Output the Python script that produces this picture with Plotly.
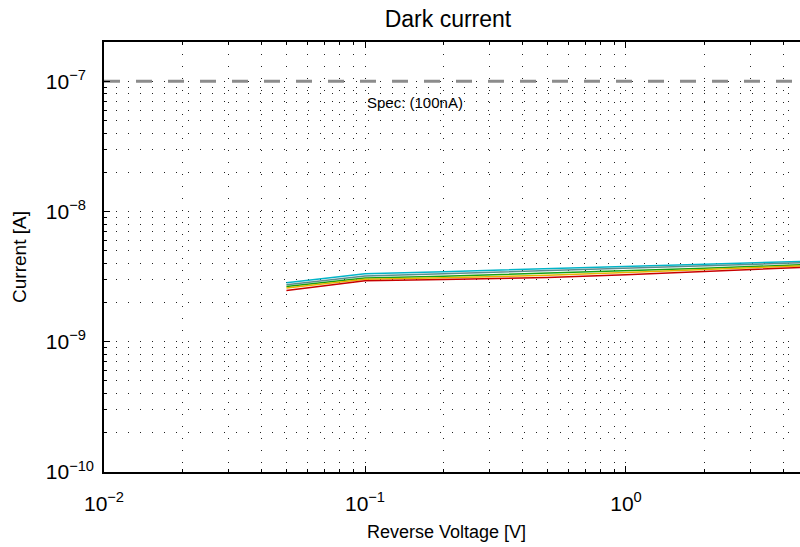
import plotly.graph_objects as go

# Data
voltage = [0.05, 0.1, 0.2, 0.5, 1, 2, 5]
series_names = ["Ch1", "Ch2", "Ch3", "Ch4", "Ch5"]
series_colors = ["#00b4c8", "#5a8c8c", "#14a014", "#e6b400", "#c80000"]
current_ch1 = [2.84e-9, 3.33e-9, 3.45e-9, 3.62e-9, 3.77e-9, 3.93e-9, 4.15e-9]
current_ch2 = [2.74e-9, 3.20e-9, 3.32e-9, 3.50e-9, 3.65e-9, 3.82e-9, 4.05e-9]
current_ch3 = [2.66e-9, 3.08e-9, 3.18e-9, 3.35e-9, 3.50e-9, 3.66e-9, 3.92e-9]
current_ch4 = [2.58e-9, 3.02e-9, 3.10e-9, 3.24e-9, 3.40e-9, 3.57e-9, 3.84e-9]
current_ch5 = [2.47e-9, 2.94e-9, 3.00e-9, 3.11e-9, 3.27e-9, 3.45e-9, 3.74e-9]
spec_x = [0.01, 10]
spec_y = [1e-7, 1e-7]
spec_label = "Spec: (100nA)"
x_tickvals = [0.01, 0.1, 1]
x_ticktext = ["10<sup>\u22122</sup>", "10<sup>\u22121</sup>", "10<sup>0</sup>"]
y_tickvals = [1e-10, 1e-9, 1e-8, 1e-7]
y_ticktext = ["10<sup>\u221210</sup>", "10<sup>\u22129\u2007</sup>",
              "10<sup>\u22128\u2007</sup>", "10<sup>\u22127\u2007</sup>"]

all_currents = [current_ch1, current_ch2, current_ch3, current_ch4, current_ch5]

FONT = "Liberation Sans, Arial, Helvetica, sans-serif"

fig = go.Figure()
fig.add_trace(go.Scatter(x=spec_x, y=spec_y, mode="lines",
                         line=dict(color="#8c8c8c", width=3, dash="16px,16px"),
                         showlegend=False, hoverinfo="skip"))
for name, col, ys in zip(series_names, series_colors, all_currents):
    fig.add_trace(go.Scatter(x=voltage, y=ys, mode="lines", name=name,
                             line=dict(color=col, width=1.5), showlegend=False))

fig.add_annotation(x=-1, y=-7.162, xref="x", yref="y", text=spec_label,
                   showarrow=False, xanchor="left", yanchor="middle",
                   font=dict(size=15, color="black", family=FONT))

grid_common = dict(gridcolor="#222222", gridwidth=1, griddash="1px,11px")
minor_common = dict(dtick="D1", ticks="inside", ticklen=3, tickcolor="black",
                    showgrid=True, gridcolor="#222222", gridwidth=1, griddash="1px,11px")

fig.update_xaxes(type="log", range=[-2, 0.6667],
                 tickvals=x_tickvals, ticktext=x_ticktext,
                 ticks="inside", ticklen=6, tickwidth=1, tickcolor="black",
                 showline=True, linecolor="black", linewidth=1.5,
                 mirror="allticks", showgrid=True, **grid_common,
                 minor=minor_common,
                 tickfont=dict(size=21, color="black", family=FONT),
                 ticklabelstandoff=12, zeroline=False)
fig.update_yaxes(type="log", range=[-10, -6.699],
                 tickvals=y_tickvals, ticktext=y_ticktext,
                 ticks="inside", ticklen=6, tickwidth=1, tickcolor="black",
                 showline=True, linecolor="black", linewidth=1.5,
                 mirror=False, showgrid=True, **grid_common,
                 minor=minor_common,
                 tickfont=dict(size=21, color="black", family=FONT),
                 ticklabelstandoff=4, zeroline=False,
                 title=dict(text="Current [A]", font=dict(size=19, color="black", family=FONT),
                            standoff=14))

fig.add_annotation(x=(446 - 104) / 696, xref="paper", y=0, yref="paper",
                   yshift=-60, text="Reverse Voltage [V]", showarrow=False,
                   xanchor="center", yanchor="middle",
                   font=dict(size=18, color="black", family=FONT))

fig.update_layout(
    width=800, height=547,
    margin=dict(l=104, r=0, t=42, b=75, autoexpand=False),
    paper_bgcolor="white", plot_bgcolor="white",
    title=dict(text="Dark current", x=448 / 800, xref="container", xanchor="center",
               y=1 - 19 / 547, yref="container", yanchor="middle",
               font=dict(size=23, color="black", family=FONT)),
    font=dict(family=FONT, color="black"),
)

fig.write_html("out.html")
